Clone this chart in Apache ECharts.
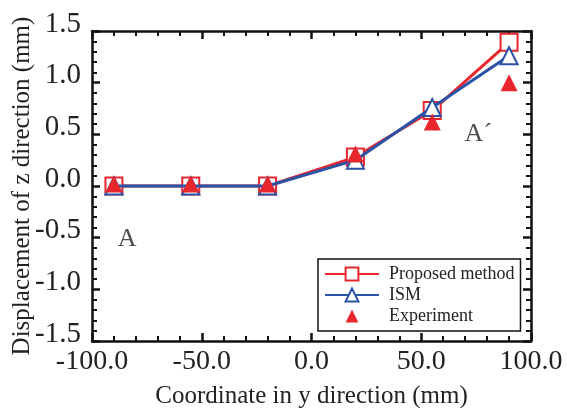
<!DOCTYPE html>
<html>
<head>
<meta charset="utf-8">
<script src="https://cdn.jsdelivr.net/npm/echarts@6/dist/echarts.min.js"></script>
<style>
html, body { margin: 0; padding: 0; background: #fff; }
#chart { width: 567px; height: 408px; }
</style>
</head>
<body>
<div id="chart"></div>
<script>
// data
const yCoord = [-90, -55, -20, 20, 55, 90];
const proposed = [0, 0, 0, 0.28, 0.73, 1.39];
const ism = [0, 0, 0, 0.25, 0.76, 1.26];
const experiment = [0.02, 0.02, 0.02, 0.31, 0.62, 1.0];
const notes = [[-84, -0.51, 'A'], [76, 0.50, 'A\u00b4']];
const legendNames = ['Proposed method', 'ISM', 'Experiment'];

const FONT = '"Liberation Serif", "Times New Roman", serif';
const RED = '#e8262d';
const BLUE = '#2a52a5';

const chart = echarts.init(document.getElementById('chart'));

const axisCommon = {
    axisLine: { show: true, onZero: false, lineStyle: { color: '#111', width: 2.5 } },
    axisTick: { show: true, inside: true, length: 8, lineStyle: { color: '#111', width: 2.5 } },
    minorTick: { show: true, splitNumber: 5, length: 5, lineStyle: { color: '#111', width: 2 } },
    splitLine: { show: false }
};

function pairs(ys) {
    return yCoord.map((x, i) => [x, ys[i]]);
}

const option = {
    animation: false,
    backgroundColor: '#fff',
    grid: { left: 92, right: 36, top: 31, bottom: 67, outerBoundsMode: 'none' },
    xAxis: [
        Object.assign({
            type: 'value', min: -100, max: 100, interval: 50, position: 'bottom',
            name: 'Coordinate in y direction (mm)', nameLocation: 'middle', nameGap: 43,
            nameMoveOverlap: false,
            nameTextStyle: { fontFamily: FONT, fontSize: 25, color: '#222' },
            axisLabel: { fontFamily: FONT, fontSize: 28, color: '#222', margin: 7,
                formatter: v => v.toFixed(1) }
        }, axisCommon),
        Object.assign({
            type: 'value', min: -100, max: 100, interval: 50, position: 'top',
            axisLabel: { show: false }
        }, axisCommon)
    ],
    yAxis: [
        Object.assign({
            type: 'value', min: -1.5, max: 1.5, interval: 0.5, position: 'left',
            name: 'Displacement of z direction (mm)', nameLocation: 'middle', nameGap: 57,
            nameMoveOverlap: false,
            nameTextStyle: { fontFamily: FONT, fontSize: 25, color: '#222' },
            axisLabel: { fontFamily: FONT, fontSize: 29, color: '#222', margin: 11,
                verticalAlign: 'bottom', lineHeight: 14,
                formatter: v => v.toFixed(1) }
        }, axisCommon),
        Object.assign({
            type: 'value', min: -1.5, max: 1.5, interval: 0.5, position: 'right',
            axisLabel: { show: false }
        }, axisCommon)
    ],
    legend: {
        data: legendNames,
        orient: 'vertical',
        left: 318, top: 259,
        backgroundColor: '#fff',
        borderColor: '#111', borderWidth: 1.5, borderRadius: 0,
        padding: [6, 6, 6, 6],
        itemWidth: 54, itemHeight: 16, itemGap: 3,
        textStyle: { fontFamily: FONT, fontSize: 18, color: '#222', padding: [0, 0, 0, 5] }
    },
    series: [
        {
            name: 'Proposed method', type: 'line', data: pairs(proposed), z: 3,
            symbol: 'emptyRect', symbolSize: 17,
            lineStyle: { color: RED, width: 3 },
            itemStyle: { color: RED, borderWidth: 1.5 }
        },
        {
            name: 'ISM', type: 'line', data: pairs(ism), z: 4,
            symbol: 'emptyTriangle', symbolSize: 17,
            lineStyle: { color: BLUE, width: 3 },
            itemStyle: { color: BLUE, borderWidth: 1.2 }
        },
        {
            name: 'Experiment', type: 'line', data: pairs(experiment), z: 5,
            symbol: 'triangle', symbolSize: 17,
            lineStyle: { color: RED, width: 0, opacity: 0 },
            itemStyle: { color: RED }
        },
        {
            name: 'notes', type: 'scatter', data: notes, symbolSize: 0, silent: true,
            label: { show: true, position: 'inside', formatter: p => p.data[2],
                fontFamily: FONT, fontSize: 26, color: '#222' }
        }
    ]
};

chart.setOption(option);
</script>
</body>
</html>
